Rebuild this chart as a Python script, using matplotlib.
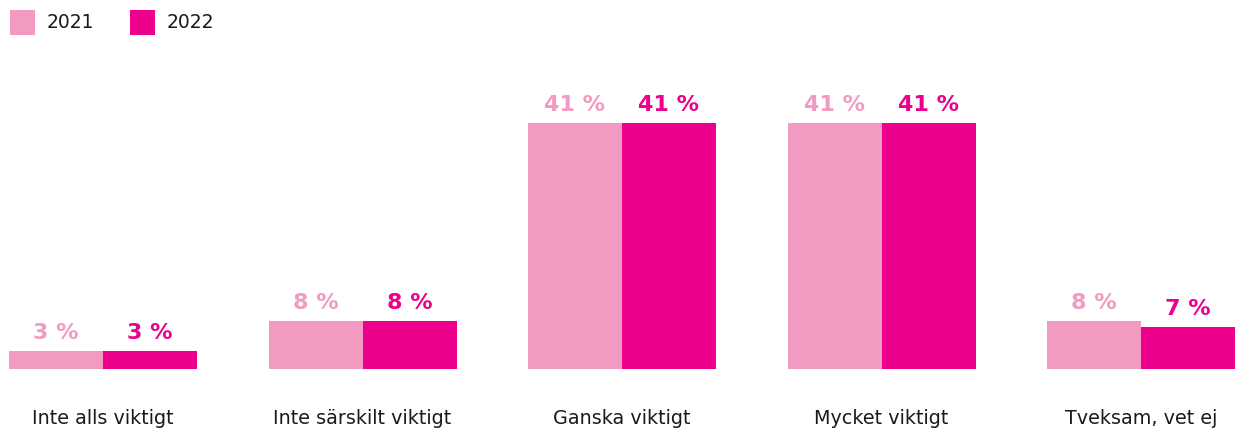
import matplotlib.pyplot as plt
import numpy as np
from matplotlib.patches import Rectangle

# Data
categories = ['Inte alls viktigt', 'Inte särskilt viktigt', 'Ganska viktigt', 'Mycket viktigt', 'Tveksam, vet ej']
values_2021 = [3, 8, 41, 41, 8]
values_2022 = [3, 8, 41, 41, 7]
series_names = ['2021', '2022']
colors = ['#F39AC2', '#EC008C']

plt.rcParams['font.family'] = ['DejaVu Sans']

fig = plt.figure(figsize=(12.43, 4.28), dpi=100)
ax = fig.add_axes([0, 59 / 428, 1, 309 / 428])

x = np.arange(len(categories))
w = 94 / 259.5

for vals, off, col in [(values_2021, -w / 2, colors[0]), (values_2022, w / 2, colors[1])]:
    bars = ax.bar(x + off, vals, width=w, color=col, linewidth=0)
    for b, v in zip(bars, vals):
        ax.annotate(f'{v} %', (b.get_x() + b.get_width() / 2, v), xytext=(0, 6),
                    textcoords='offset points', ha='center', va='bottom',
                    fontsize=16, fontweight='bold', color=col)

ax.set_xlim(-103 / 259.5, (1243 - 103) / 259.5)
ax.set_ylim(0, 51.5)
ax.axis('off')

# category labels under the bars
for xi, cat in zip(x, categories):
    ax.text(xi, -49 / 309, cat, transform=ax.get_xaxis_transform(), ha='center', va='center',
            fontsize=13.8, color='#1a1a1a')

# legend at top left
for i, (name, col) in enumerate(zip(series_names, colors)):
    x0 = 10 + i * 120
    fig.patches.append(Rectangle((x0 / 1243, 1 - 35 / 428), 25 / 1243, 25 / 428,
                                 transform=fig.transFigure, color=col, linewidth=0))
    fig.text((x0 + 37) / 1243, 1 - 23 / 428, name, ha='left', va='center',
             fontsize=13.5, color='#1a1a1a')

fig.savefig('out.png', dpi=100)
